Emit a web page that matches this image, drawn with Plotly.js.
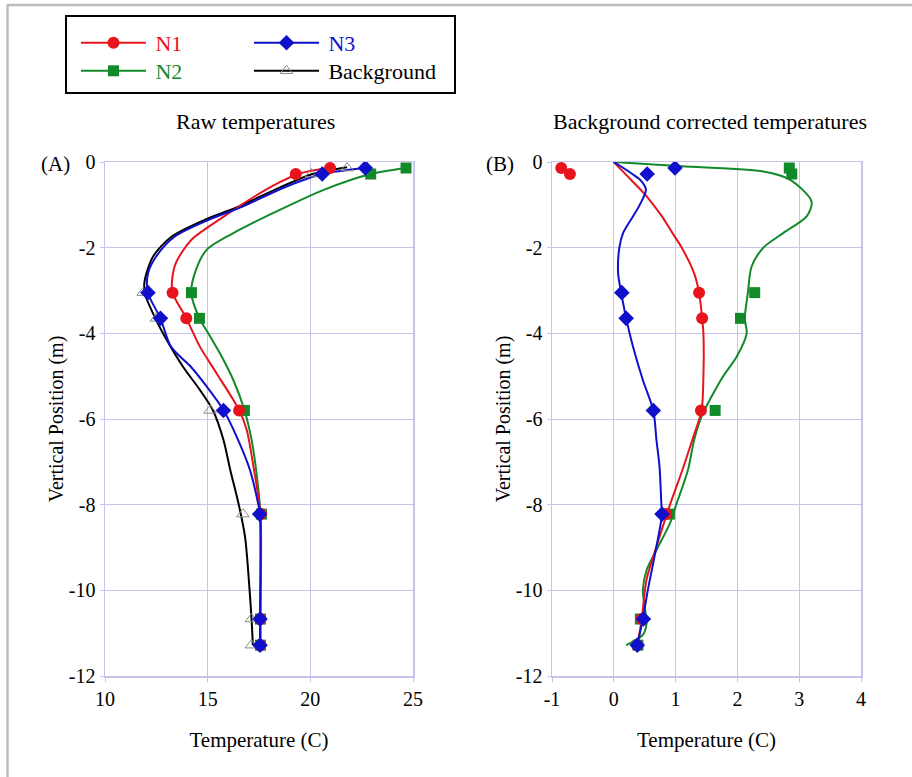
<!DOCTYPE html>
<html>
<head>
<meta charset="utf-8">
<script src="https://cdn.plot.ly/plotly-3.0.1.min.js"></script>
<style>html,body{margin:0;padding:0;background:#fff;}#chart{width:912px;height:777px;}</style>
</head>
<body>
<div id="chart"></div>
<script>
// ---- Marker data (depth of sensors, m) ----
var markerDepth = [-0.14, -0.28, -3.05, -3.65, -5.8, -8.22, -10.67, -11.28];
// Raw temperatures (C)
var rawN1 = [20.96, 19.29, 13.29, 13.96, 16.53, 17.6, 17.57, 17.57];
var rawN2 = [24.66, 22.94, 14.21, 14.6, 16.79, 17.62, 17.57, 17.57];
var rawN3 = [22.68, 20.58, 12.09, 12.7, 15.77, 17.53, 17.55, 17.55];
var rawBG = [21.79, 20.05, 11.86, 12.5, 15.12, 16.72, 17.13, 17.13];
// Background corrected temperatures (C)
var corN1 = [-0.85, -0.71, 1.38, 1.43, 1.41, 0.85, 0.45, 0.38];
var corN2 = [2.84, 2.88, 2.28, 2.05, 1.64, 0.9, 0.43, 0.39];
var corN3 = [0.99, 0.54, 0.13, 0.2, 0.64, 0.78, 0.48, 0.38];

// ---- Smoothed curves, panel A ----
var curveA_N1_d = [-0.13, -0.28, -0.5, -0.8, -1.27, -1.82, -2.36, -2.75, -3.05, -3.65, -4.31, -4.93, -5.79, -6.25, -7.11, -8.22, -10.67, -11.28];
var curveA_N1_t = [20.96, 19.4, 18.4, 17.3, 15.8, 14.2, 13.45, 13.27, 13.29, 13.96, 14.62, 15.43, 16.53, 16.9, 17.23, 17.57, 17.57, 17.57];
var curveA_N2_d = [-0.14, -0.28, -0.65, -1.19, -1.66, -2.05, -2.52, -3.05, -3.65, -4.0, -4.54, -5.09, -5.79, -6.49, -7.27, -8.22, -10.67, -11.28];
var curveA_N2_t = [24.66, 22.94, 20.65, 18.2, 16.25, 14.95, 14.43, 14.2, 14.6, 15.03, 15.68, 16.25, 16.79, 17.14, 17.38, 17.57, 17.57, 17.57];
var curveA_N3_d = [-0.14, -0.28, -0.6, -1.04, -1.35, -1.74, -2.2, -2.59, -3.05, -3.65, -4.31, -4.78, -5.24, -5.79, -6.41, -7.19, -8.0, -8.22, -10.67, -11.28];
var curveA_N3_t = [22.68, 20.58, 18.7, 16.7, 15.05, 13.4, 12.5, 12.1, 12.09, 12.7, 13.21, 14.18, 14.95, 15.77, 16.41, 17.06, 17.47, 17.55, 17.55, 17.55];
var curveA_BG_d = [-0.12, -0.28, -0.6, -1.04, -1.35, -1.74, -2.2, -2.75, -3.05, -3.65, -4.15, -4.78, -5.32, -5.79, -6.49, -7.19, -7.97, -8.75, -9.92, -10.7, -11.28];
var curveA_BG_t = [21.79, 20.1, 18.5, 16.5, 14.85, 13.25, 12.35, 11.94, 11.93, 12.45, 13.0, 13.8, 14.62, 15.25, 15.77, 16.1, 16.5, 16.82, 17.03, 17.14, 17.2];

// ---- Smoothed curves, panel B ----
var curveB_N1_d = [0, -0.3, -0.75, -1.0, -1.27, -1.66, -2.0, -2.6, -3.05, -3.65, -4.0, -5.0, -5.8, -6.49, -7.19, -8.0, -8.98, -9.75, -10.7, -11.28];
var curveB_N1_t = [0, 0.2, 0.5, 0.64, 0.78, 0.95, 1.1, 1.3, 1.38, 1.43, 1.45, 1.45, 1.42, 1.27, 1.11, 0.91, 0.69, 0.53, 0.45, 0.38];
var curveB_N2_d = [0, -0.1, -0.22, -0.41, -0.92, -1.27, -1.66, -2.0, -2.44, -3.05, -3.65, -4.0, -4.54, -5.0, -5.48, -5.94, -6.49, -7.19, -8.0, -8.43, -9.06, -9.53, -10.0, -10.38, -10.77, -11.04, -11.28];
var curveB_N2_t = [0, 1.1, 2.42, 2.85, 3.2, 3.12, 2.74, 2.42, 2.23, 2.17, 2.12, 2.15, 1.99, 1.77, 1.58, 1.42, 1.3, 1.2, 1.01, 0.91, 0.69, 0.53, 0.47, 0.5, 0.53, 0.47, 0.2];
var curveB_N3_d = [0, -0.28, -0.45, -0.65, -1.0, -1.27, -1.66, -2.0, -2.6, -3.05, -3.65, -4.31, -5.09, -5.8, -6.49, -7.11, -8.0, -8.22, -8.98, -10.0, -10.67, -11.28];
var curveB_N3_t = [0, 0.3, 0.45, 0.52, 0.42, 0.31, 0.15, 0.09, 0.07, 0.12, 0.2, 0.31, 0.47, 0.64, 0.69, 0.74, 0.77, 0.78, 0.69, 0.55, 0.47, 0.38];

var names = ['N1', 'N2', 'N3', 'Background'];
var panelTitles = ['Raw temperatures', 'Background corrected temperatures'];
var panelLabels = ['(A)', '(B)'];
var xTitle = 'Temperature (C)';
var yTitle = 'Vertical Position (m)';
var yTickVals = [-12, -10, -8, -6, -4, -2, 0];
var yTickText = ['-12', '-10', '-8', '-6', '-4', '-2', '0'];
var xATickVals = [10, 15, 20, 25];
var xATickText = ['10', '15', '20', '25'];
var xBTickVals = [-1, 0, 1, 2, 3, 4];
var xBTickText = ['-1', '0', '1', '2', '3', '4'];

var RED = '#e8141c', GREEN = '#128a2a', BLUE = '#1010cc', BLACK = '#000000', TRI = '#8a8a8a';
var FONT = 'Liberation Serif, Times New Roman, serif';
var W = 912, H = 777;
function px(x) { return x / W; }
function py(y) { return 1 - y / H; }

function curve(x, y, color, xa, ya) {
  return {x: x, y: y, mode: 'lines', type: 'scatter', xaxis: xa, yaxis: ya,
    line: {color: color, width: 2, shape: 'spline', smoothing: 0.8},
    showlegend: false, hoverinfo: 'skip'};
}
function marks(x, y, color, sym, size, xa, ya) {
  return {x: x, y: y, mode: 'markers', type: 'scatter', xaxis: xa, yaxis: ya,
    marker: {color: color, symbol: sym, size: size, line: {color: color, width: sym.indexOf('open') >= 0 ? 1 : 0}},
    showlegend: false};
}
function legendEntry(name, textColor, lineColor, mColor, sym, size, legendId) {
  return {x: [null], y: [null], mode: 'lines+markers', type: 'scatter',
    name: '\u2009<span style="color:' + textColor + '">' + name + '</span>',
    line: {color: lineColor, width: 2},
    marker: {color: mColor, symbol: sym, size: size, line: {color: mColor, width: sym.indexOf('open') >= 0 ? 1 : 0}},
    legend: legendId, showlegend: true};
}

var data = [
  curve(curveA_BG_t, curveA_BG_d, BLACK, 'x', 'y'),
  curve(curveA_N2_t, curveA_N2_d, GREEN, 'x', 'y'),
  curve(curveA_N1_t, curveA_N1_d, RED, 'x', 'y'),
  curve(curveA_N3_t, curveA_N3_d, BLUE, 'x', 'y'),
  marks(rawBG, markerDepth, TRI, 'triangle-up-open', 11, 'x', 'y'),
  marks(rawN2, markerDepth, GREEN, 'square', 11, 'x', 'y'),
  marks(rawN1, markerDepth, RED, 'circle', 12, 'x', 'y'),
  marks(rawN3, markerDepth, BLUE, 'diamond', 12, 'x', 'y'),

  curve(curveB_N2_t, curveB_N2_d, GREEN, 'x2', 'y2'),
  curve(curveB_N1_t, curveB_N1_d, RED, 'x2', 'y2'),
  curve(curveB_N3_t, curveB_N3_d, BLUE, 'x2', 'y2'),
  marks(corN2, markerDepth, GREEN, 'square', 11, 'x2', 'y2'),
  marks(corN1, markerDepth, RED, 'circle', 12, 'x2', 'y2'),
  marks(corN3, markerDepth, BLUE, 'diamond', 12, 'x2', 'y2'),

  legendEntry(names[0], RED, RED, RED, 'circle', 12, 'legend'),
  legendEntry(names[2], BLUE, BLUE, BLUE, 'diamond', 12, 'legend2'),
  legendEntry(names[1], GREEN, GREEN, GREEN, 'square', 11, 'legend3'),
  legendEntry(names[3], BLACK, BLACK, TRI, 'triangle-up-open', 11, 'legend4')
];

var GRID = '#c6c3ec';
var tickFont = {family: FONT, size: 20, color: '#000'};
var titleFont = {family: FONT, size: 21, color: '#000'};
function xax(domain, range, tv, tt, anchor) {
  return {domain: domain, range: range, tickmode: 'array', tickvals: tv, ticktext: tt, anchor: anchor,
    showgrid: true, gridcolor: GRID, gridwidth: 1, zeroline: false,
    showline: true, linecolor: GRID, linewidth: 1.5, mirror: true,
    ticks: 'outside', ticklen: 4, tickcolor: GRID, tickfont: tickFont,
    title: {text: xTitle, font: titleFont, standoff: 24}, fixedrange: true};
}
function yax(domain, anchor) {
  return {domain: domain, range: [-12, 0], tickmode: 'array', tickvals: yTickVals, ticktext: yTickText, anchor: anchor,
    showgrid: true, gridcolor: GRID, gridwidth: 1, zeroline: false,
    showline: true, linecolor: GRID, linewidth: 1.5, mirror: true,
    ticks: 'outside', ticklen: 4, tickcolor: GRID, tickfont: tickFont,
    title: {text: yTitle, font: {family: FONT, size: 20, color: '#000'}, standoff: 0}, fixedrange: true};
}
function leg(xPix, yPix) {
  return {x: px(xPix), xanchor: 'left', y: py(yPix), yanchor: 'top', orientation: 'v',
    bgcolor: 'rgba(0,0,0,0)', borderwidth: 0, font: {family: FONT, size: 22, color: '#000'},
    itemwidth: 65, tracegroupgap: 0};
}

var yDom = [py(676), py(162)];
var layout = {
  width: W, height: H,
  margin: {l: 0, r: 0, t: 0, b: 0, pad: 0},
  paper_bgcolor: '#fff', plot_bgcolor: '#fff',
  font: {family: FONT, size: 20, color: '#000'},
  xaxis: xax([px(105), px(413)], [10, 25], xATickVals, xATickText, 'y'),
  yaxis: yax(yDom, 'x'),
  xaxis2: xax([px(552), px(861)], [-1, 4], xBTickVals, xBTickText, 'y2'),
  yaxis2: yax(yDom, 'x2'),
  legend: leg(76, 22),
  legend2: leg(249, 22),
  legend3: leg(76, 50),
  legend4: leg(249, 50),
  shapes: [
    {type: 'rect', xref: 'paper', yref: 'paper', x0: px(66), x1: px(455), y0: py(93), y1: py(16),
      line: {color: '#000', width: 2}, fillcolor: 'rgba(0,0,0,0)'},
    {type: 'line', xref: 'paper', yref: 'paper', x0: px(7), x1: 1, y0: py(5), y1: py(5),
      line: {color: '#bdbdbd', width: 2.5}},
    {type: 'line', xref: 'paper', yref: 'paper', x0: px(7.5), x1: px(7.5), y0: py(5), y1: 0,
      line: {color: '#bdbdbd', width: 2.5}}
  ],
  annotations: [
    {text: panelTitles[0], xref: 'paper', yref: 'paper', x: px(255), y: py(122), xanchor: 'center', yanchor: 'middle',
      showarrow: false, font: {family: FONT, size: 22, color: '#000'}},
    {text: panelTitles[1], xref: 'paper', yref: 'paper', x: px(710), y: py(122), xanchor: 'center', yanchor: 'middle',
      showarrow: false, font: {family: FONT, size: 22, color: '#000'}},
    {text: panelLabels[0], xref: 'paper', yref: 'paper', x: px(55), y: py(164), xanchor: 'center', yanchor: 'middle',
      showarrow: false, font: {family: FONT, size: 21, color: '#000'}},
    {text: panelLabels[1], xref: 'paper', yref: 'paper', x: px(500), y: py(164), xanchor: 'center', yanchor: 'middle',
      showarrow: false, font: {family: FONT, size: 21, color: '#000'}}
  ]
};

Plotly.newPlot('chart', data, layout, {displayModeBar: false, staticPlot: true});
</script>
</body>
</html>
